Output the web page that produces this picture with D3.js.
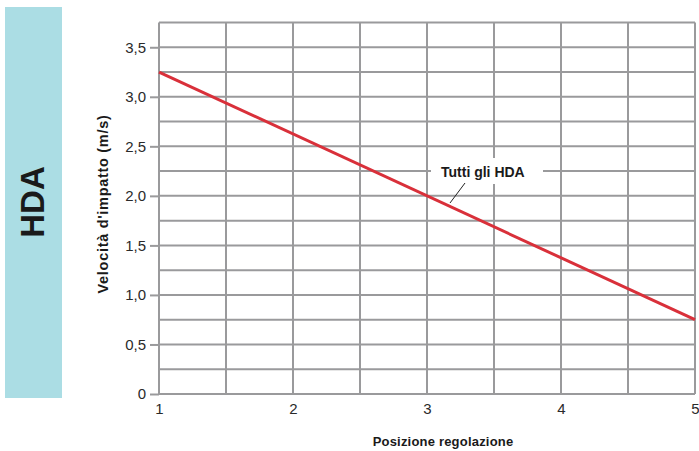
<!DOCTYPE html>
<html><head><meta charset="utf-8">
<script src="https://cdn.jsdelivr.net/npm/d3@7"></script>
<style>body{margin:0;background:#fff}svg{display:block}</style>
</head><body>
<script>
const xValues = [1, 5];
const yValues = [3.25, 0.75];
const xTicks = [1, 2, 3, 4, 5];
const yTicks = [0, 0.5, 1.0, 1.5, 2.0, 2.5, 3.0, 3.5];
const seriesName = "Tutti gli HDA";
const sideTitle = "HDA";
const xTitle = "Posizione regolazione";
const yTitle = "Velocità d'impatto (m/s)";

const W = 699, H = 451;
const svg = d3.select("body").append("svg").attr("width", W).attr("height", H);
const x = d3.scaleLinear().domain([1, 5]).range([159, 695]);
const y = d3.scaleLinear().domain([0, 3.75]).range([394, 22.5]);
const grid = "#9a9a9c";
const font = "'Liberation Sans', Arial, sans-serif";

// side band
svg.append("rect").attr("x", 5).attr("y", 7).attr("width", 57).attr("height", 391).attr("fill", "#abdde4");
svg.append("text").attr("transform", "translate(44,202) rotate(-90)").attr("text-anchor", "middle")
  .attr("font-family", font).attr("font-weight", "bold").attr("font-size", 33).attr("fill", "#1a1a1a").text(sideTitle);

// grid
const vlines = d3.range(1, 5.01, 0.5);
const hlines = d3.range(0, 3.76, 0.25);
svg.append("g").selectAll("line").data(vlines).join("line")
  .attr("x1", d => x(d)).attr("x2", d => x(d)).attr("y1", y(3.75)).attr("y2", y(0))
  .attr("stroke", grid).attr("stroke-width", 2);
svg.append("g").selectAll("line").data(hlines).join("line")
  .attr("x1", x(1)).attr("x2", x(5)).attr("y1", d => y(d)).attr("y2", d => y(d))
  .attr("stroke", grid).attr("stroke-width", 2);

// axes
const yAxis = d3.axisLeft(y).tickValues(yTicks).tickSize(9).tickPadding(4)
  .tickFormat(d => d === 0 ? "0" : d3.format(".1f")(d).replace(".", ","));
const gy = svg.append("g").attr("transform", `translate(${x(1)},0)`).call(yAxis);
gy.select(".domain").remove();
gy.selectAll(".tick line").attr("stroke", grid).attr("stroke-width", 2);
gy.selectAll(".tick text").attr("font-family", font).attr("font-size", 15).attr("fill", "#2a2a2a");

const xAxis = d3.axisBottom(x).tickValues(xTicks).tickSize(0).tickPadding(9).tickFormat(d3.format("d"));
const gx = svg.append("g").attr("transform", `translate(0,${y(0)})`).call(xAxis);
gx.select(".domain").remove();
gx.selectAll(".tick text").attr("font-family", font).attr("font-size", 15).attr("fill", "#2a2a2a");

// data line
const line = d3.line().x(d => x(d[0])).y(d => y(d[1]));
svg.append("path").datum(xValues.map((v, i) => [v, yValues[i]])).attr("d", line)
  .attr("fill", "none").attr("stroke", "#d9303a").attr("stroke-width", 3);

// annotation
svg.append("rect").attr("x", 431).attr("y", 158).attr("width", 112).attr("height", 26).attr("fill", "#fff");
svg.append("text").attr("x", 441).attr("y", 177).attr("font-family", font).attr("font-weight", "bold")
  .attr("font-size", 14).attr("fill", "#1a1a1a").text(seriesName);
svg.append("line").attr("x1", 465).attr("y1", 183).attr("x2", 450).attr("y2", 203)
  .attr("stroke", "#222").attr("stroke-width", 1);

// axis titles
svg.append("text").attr("transform", "translate(108,204) rotate(-90)").attr("text-anchor", "middle")
  .attr("font-family", font).attr("font-weight", "bold").attr("font-size", 14.5).attr("letter-spacing", 0.7)
  .attr("fill", "#1a1a1a").text(yTitle);
svg.append("text").attr("x", 443).attr("y", 446).attr("text-anchor", "middle")
  .attr("font-family", font).attr("font-weight", "bold").attr("font-size", 13).attr("letter-spacing", 0.2)
  .attr("fill", "#1a1a1a").text(xTitle);
</script>
</body></html>
